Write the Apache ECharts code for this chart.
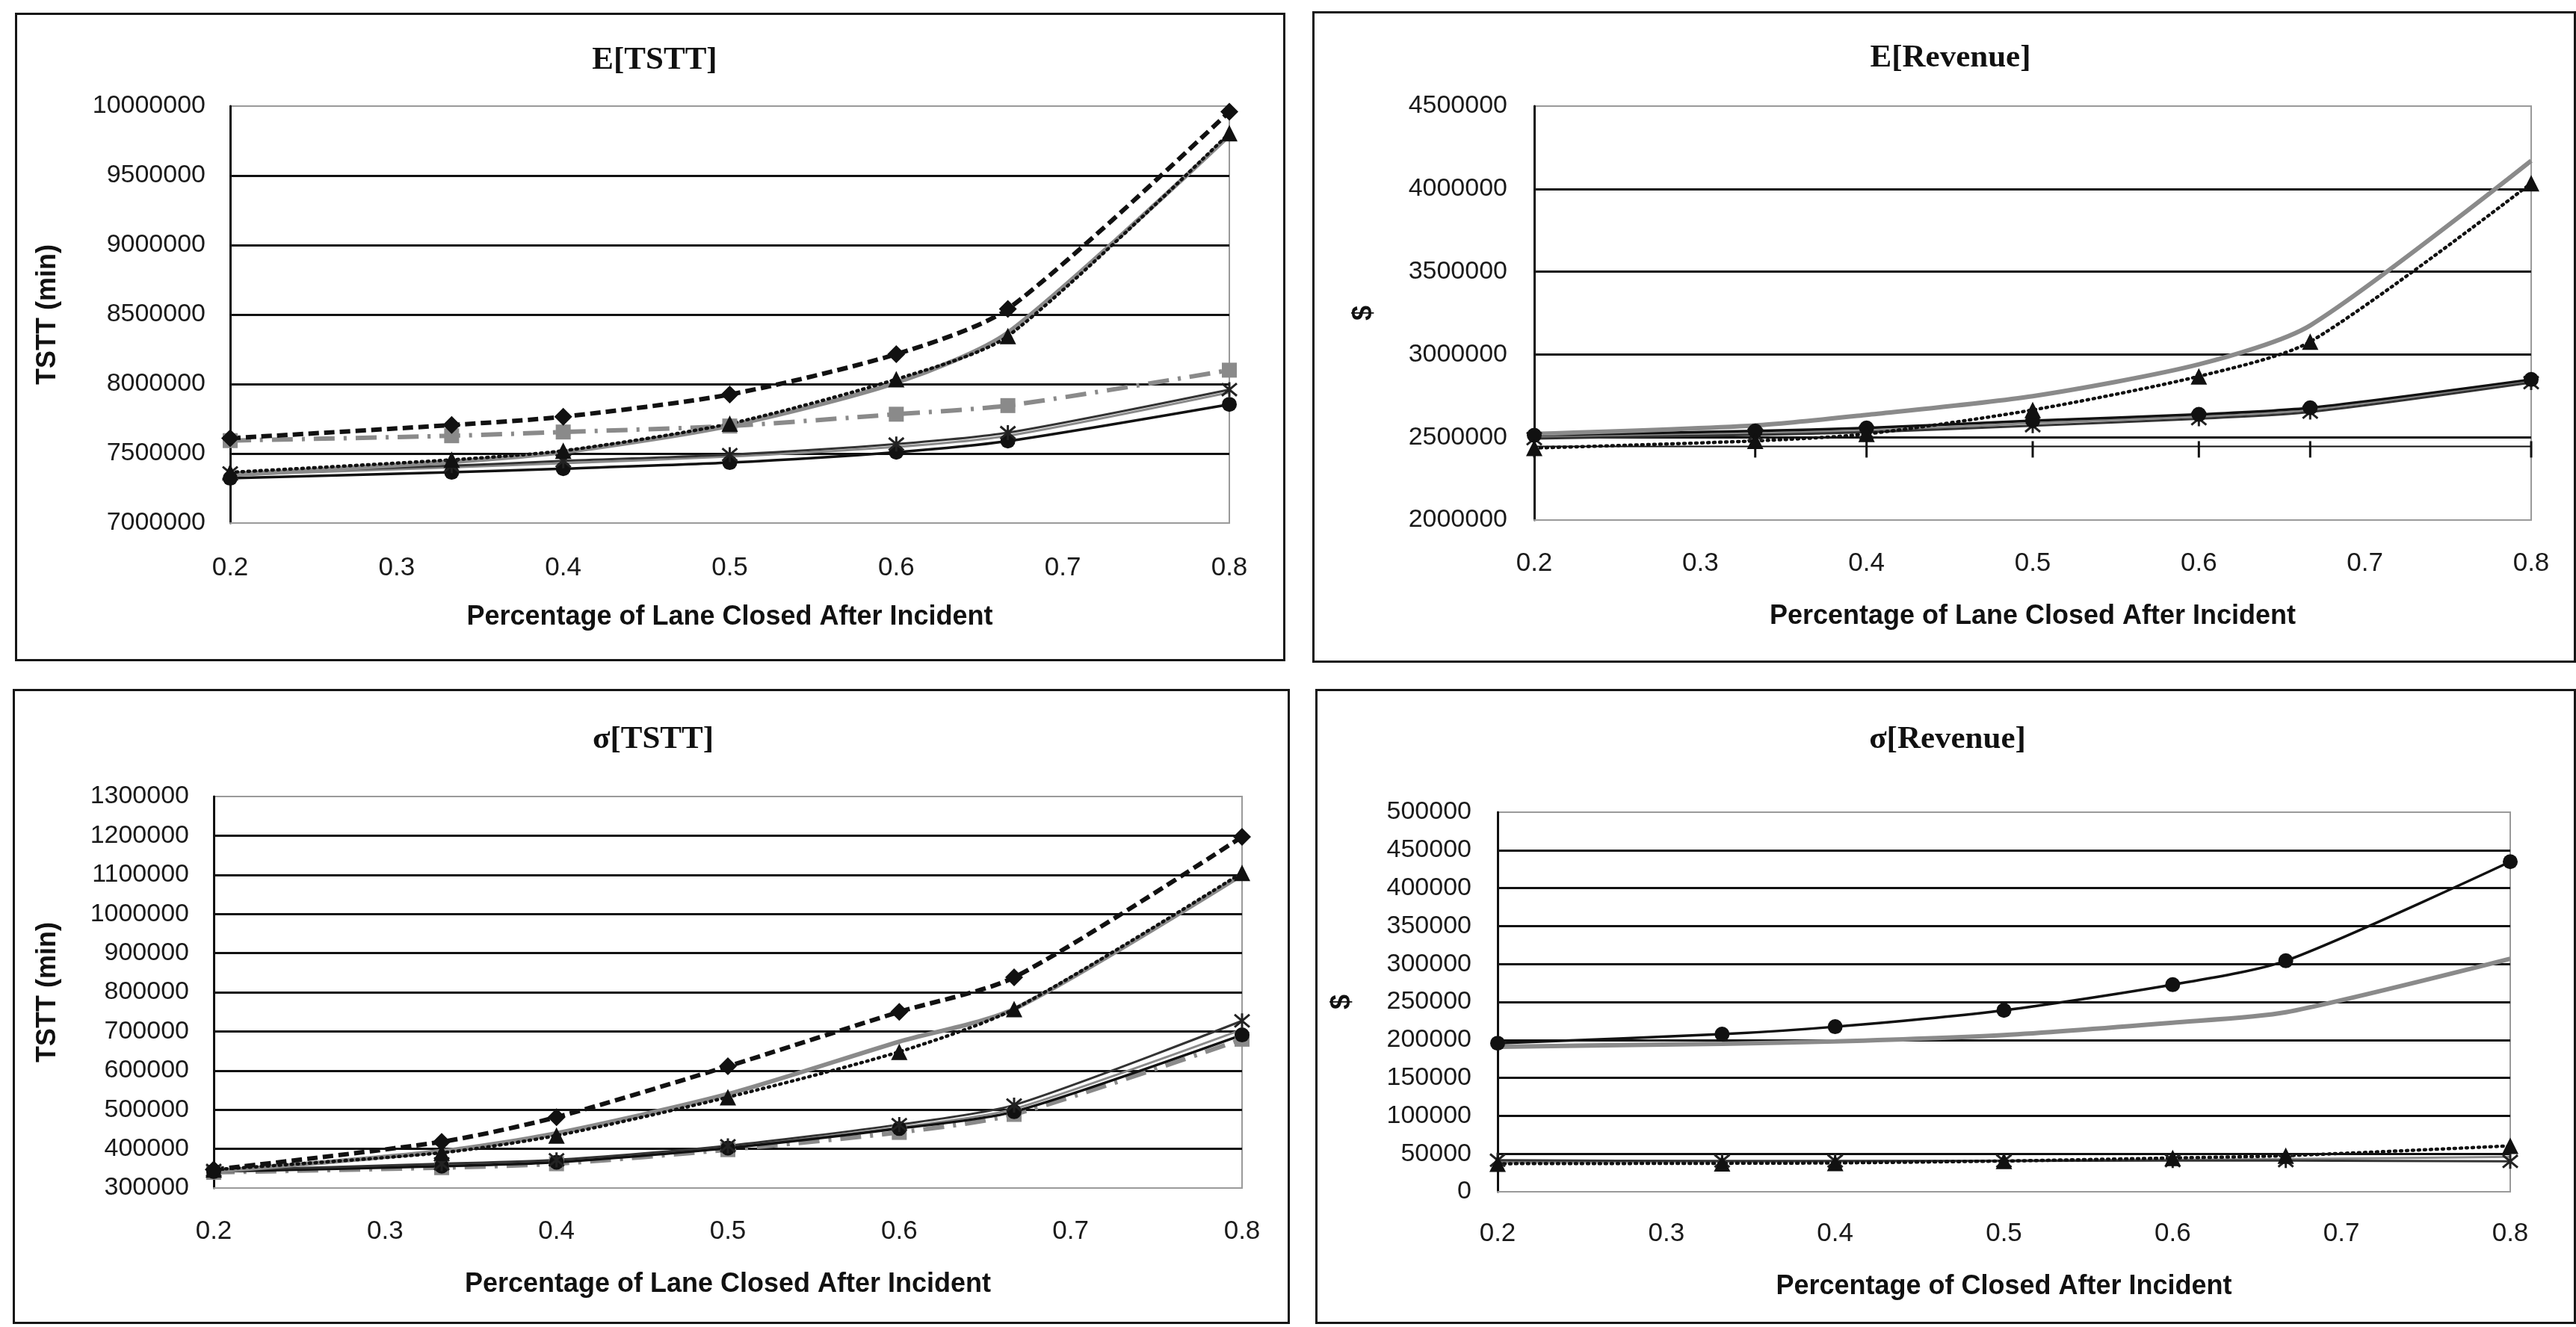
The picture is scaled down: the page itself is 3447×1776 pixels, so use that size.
<!DOCTYPE html>
<html>
<head>
<meta charset="UTF-8">
<title>Lane closure - TSTT and Revenue</title>
<script src="https://cdn.jsdelivr.net/npm/echarts@6/dist/echarts.min.js"></script>
<style>
    body { margin: 0; background: #fff; width: 3447px; height: 1776px; overflow: hidden; position: relative; }
    .panel { position: absolute; border: 3px solid #161616; box-sizing: border-box; background: #fff; }
</style>
</head>
<body>
<div class="panel" id="p1" style="left:20px;top:17px;width:1700px;height:868px;"></div>
<div class="panel" id="p2" style="left:1756px;top:15px;width:1691px;height:872px;"></div>
<div class="panel" id="p3" style="left:17px;top:922px;width:1709px;height:850px;"></div>
<div class="panel" id="p4" style="left:1760px;top:922px;width:1687px;height:850px;"></div>
<script type="text/javascript">
    // x positions (share of lane closed)
    var xPct = [0.2, 0.333, 0.4, 0.5, 0.6, 0.667, 0.8];

    // E[TSTT]
    var eTsttDiamond = [7610000, 7705000, 7765000, 7925000, 8215000, 8540000, 9960000];
    var eTsttGray = [7345000, 7440000, 7510000, 7700000, 8010000, 8370000, 9790000];
    var eTsttTriangle = [7365000, 7455000, 7520000, 7715000, 8035000, 8345000, 9805000];
    var eTsttSquare = [7593000, 7628000, 7655000, 7698000, 7783000, 7845000, 8100000];
    var eTsttStar = [7360000, 7412000, 7447000, 7492000, 7568000, 7650000, 7960000];
    var eTsttThin = [7345000, 7400000, 7430000, 7478000, 7548000, 7628000, 7940000];
    var eTsttCircle = [7322000, 7365000, 7391000, 7435000, 7510000, 7590000, 7854000];

    // E[Revenue]
    var eRevGray = [2520000, 2571000, 2635000, 2748000, 2940000, 3175000, 4170000];
    var eRevTriangle = [2435000, 2478000, 2520000, 2665000, 2868000, 3077000, 4034000];
    var eRevCircle = [2512000, 2538000, 2556000, 2600000, 2638000, 2678000, 2849000];
    var eRevThin = [2500000, 2525000, 2540000, 2585000, 2625000, 2665000, 2840000];
    var eRevStar = [2492000, 2515000, 2530000, 2570000, 2612000, 2652000, 2830000];
    var eRevFlat = [2445000, 2445000, 2445000, 2445000, 2445000, 2445000, 2445000];

    // sigma[TSTT]
    var sTsttDiamond = [347000, 418000, 481000, 611000, 750000, 838000, 1197000];
    var sTsttGray = [342000, 394000, 440000, 540000, 674000, 757000, 1100000];
    var sTsttTriangle = [347000, 390000, 434000, 532000, 648000, 757000, 1105000];
    var sTsttSquare = [340000, 352000, 362000, 398000, 442000, 488000, 680000];
    var sTsttStar = [345000, 362000, 372000, 408000, 462000, 512000, 727000];
    var sTsttThin = [343000, 358000, 368000, 404000, 455000, 502000, 705000];
    var sTsttCircle = [342000, 356000, 366000, 402000, 452000, 495000, 691000];

    // sigma[Revenue]
    var sRevCircle = [195700, 207600, 217400, 239000, 272800, 304300, 434800];
    var sRevGray = [191000, 195000, 198000, 206500, 222800, 236400, 307000];
    var sRevTriangle = [37000, 37500, 38000, 40500, 44500, 47500, 60500];
    var sRevThin = [39000, 39500, 40000, 41000, 42000, 43000, 46000];
    var sRevStar = [41500, 40500, 40500, 40500, 41000, 41000, 40000];

    // axis ranges [min, max, step]
    var xRange = [0.2, 0.8, 0.1];
    var eTsttRange = [7000000, 10000000, 500000];
    var eRevRange = [2000000, 4500000, 500000];
    var sTsttRange = [300000, 1300000, 100000];
    var sRevRange = [0, 500000, 50000];

    var BLACK = '#111';
    var GRAY = '#8a8a8a';
    var ASTERISK = 'path://M0,0L20,20M20,0L0,20M10,-2L10,22';

    function pts(vals) {
        return xPct.map(function (x, i) { return [x, vals[i]]; });
    }

    // one line style per marker kind, like the excel original
    function s(kind, vals) {
        var o = {type: 'line', data: pts(vals), smooth: 0.25, z: 3};
        if (kind === 'diamond') {
            o.lineStyle = {color: BLACK, width: 6, type: [14, 7]};
            o.symbol = 'diamond'; o.symbolSize = 24; o.itemStyle = {color: BLACK};
        } else if (kind === 'gray') {
            o.lineStyle = {color: GRAY, width: 6}; o.symbol = 'none';
        } else if (kind === 'triangle') {
            o.lineStyle = {color: BLACK, width: 4.5, type: [2, 6], cap: 'round'};
            o.symbol = 'triangle'; o.symbolSize = 22; o.itemStyle = {color: BLACK};
        } else if (kind === 'square') {
            o.lineStyle = {color: GRAY, width: 6, type: [28, 12, 4, 12]};
            o.symbol = 'rect'; o.symbolSize = 20; o.itemStyle = {color: GRAY};
        } else if (kind === 'star') {
            o.lineStyle = {color: '#333', width: 3};
            o.symbol = ASTERISK; o.symbolSize = 20;
            o.itemStyle = {color: 'none', borderColor: '#222', borderWidth: 3};
        } else if (kind === 'thin') {
            o.lineStyle = {color: GRAY, width: 3}; o.symbol = 'none';
        } else if (kind === 'circle') {
            o.lineStyle = {color: BLACK, width: 3.5}; o.symbol = 'circle'; o.symbolSize = 20;
            o.itemStyle = {color: BLACK};
        } else if (kind === 'ticks') {
            o.smooth = false;
            o.lineStyle = {color: BLACK, width: 2};
            o.symbol = 'rect'; o.symbolSize = [3, 22]; o.symbolOffset = [0, 4];
            o.itemStyle = {color: BLACK};
        }
        return o;
    }

    function makeChart(id, cfg) {
        var chart = echarts.init(document.getElementById(id));
        var option = {
            animation: false,
            title: {
                text: cfg.title,
                left: cfg.titleX,
                top: cfg.titleTop,
                textAlign: 'center',
                textStyle: {fontFamily: 'Liberation Serif', fontWeight: 'bold', fontSize: 43, color: '#111'}
            },
            grid: {
                left: cfg.grid[0], top: cfg.grid[1], right: cfg.grid[2], bottom: cfg.grid[3],
                show: true, borderColor: '#9a9a9a', borderWidth: 2, backgroundColor: 'transparent'
            },
            xAxis: {
                type: 'value',
                min: xRange[0], max: xRange[1], interval: xRange[2],
                name: cfg.xName,
                nameLocation: 'middle',
                nameGap: cfg.xNameGap,
                nameTextStyle: {fontFamily: 'Liberation Sans', fontWeight: 'bold', fontSize: 36, color: '#111'},
                axisLine: {show: true, lineStyle: {color: '#9a9a9a', width: 2}},
                axisTick: {show: false},
                splitLine: {show: false},
                axisLabel: {
                    margin: cfg.xLabelMargin,
                    fontFamily: 'Liberation Sans', fontSize: 35, color: '#1a1a1a',
                    formatter: function (v) { return v.toFixed(1); }
                }
            },
            yAxis: {
                type: 'value',
                min: cfg.yRange[0], max: cfg.yRange[1], interval: cfg.yRange[2],
                name: cfg.yName,
                nameLocation: 'middle',
                nameRotate: 90,
                nameGap: cfg.yNameGap,
                nameTextStyle: {fontFamily: 'Liberation Sans', fontWeight: 'bold', fontSize: 36, color: '#111'},
                axisLine: {show: true, lineStyle: {color: '#111', width: 3}},
                axisTick: {show: false},
                splitLine: {show: true, showMinLine: false, showMaxLine: false, lineStyle: {color: '#111', width: 3}},
                axisLabel: {
                    margin: cfg.yLabelMargin,
                    fontFamily: 'Liberation Sans', fontSize: 34, color: '#1a1a1a',
                    formatter: function (v) { return String(v); }
                }
            },
            series: cfg.series
        };
        chart.setOption(option);
        return chart;
    }

    makeChart('p1', {
        title: 'E[TSTT]', titleX: 848, titleTop: 34,
        grid: [285, 122, 72, 182],
        xName: 'Percentage of Lane Closed After Incident', xNameGap: 108, xLabelMargin: 43,
        yName: 'TSTT (min)', yNameGap: 226, yLabelMargin: 33,
        yRange: eTsttRange,
        series: [
            s('thin', eTsttThin), s('circle', eTsttCircle), s('star', eTsttStar),
            s('square', eTsttSquare), s('gray', eTsttGray), s('triangle', eTsttTriangle),
            s('diamond', eTsttDiamond)
        ]
    });

    makeChart('p2', {
        title: 'E[Revenue]', titleX: 846, titleTop: 33,
        grid: [294, 124, 57, 188],
        xName: 'Percentage of Lane Closed After Incident', xNameGap: 111, xLabelMargin: 41,
        yName: '$', yNameGap: 210, yLabelMargin: 36,
        yRange: eRevRange,
        series: [
            s('ticks', eRevFlat), s('thin', eRevThin), s('star', eRevStar), s('circle', eRevCircle),
            s('triangle', eRevTriangle), s('gray', eRevGray)
        ]
    });

    makeChart('p3', {
        title: 'σ[TSTT]', titleX: 849, titleTop: 38,
        grid: [266, 141, 61, 179],
        xName: 'Percentage of Lane Closed After Incident', xNameGap: 111, xLabelMargin: 41,
        yName: 'TSTT (min)', yNameGap: 204, yLabelMargin: 33,
        yRange: sTsttRange,
        series: [
            s('square', sTsttSquare), s('thin', sTsttThin), s('circle', sTsttCircle), s('star', sTsttStar),
            s('gray', sTsttGray), s('triangle', sTsttTriangle), s('diamond', sTsttDiamond)
        ]
    });

    makeChart('p4', {
        title: 'σ[Revenue]', titleX: 838, titleTop: 38,
        grid: [241, 162, 85, 174],
        xName: 'Percentage of Closed After Incident', xNameGap: 109, xLabelMargin: 39,
        yName: '$', yNameGap: 190, yLabelMargin: 35,
        yRange: sRevRange,
        series: [
            s('thin', sRevThin), s('star', sRevStar), s('triangle', sRevTriangle),
            s('gray', sRevGray), s('circle', sRevCircle)
        ]
    });
</script>
</body>
</html>
